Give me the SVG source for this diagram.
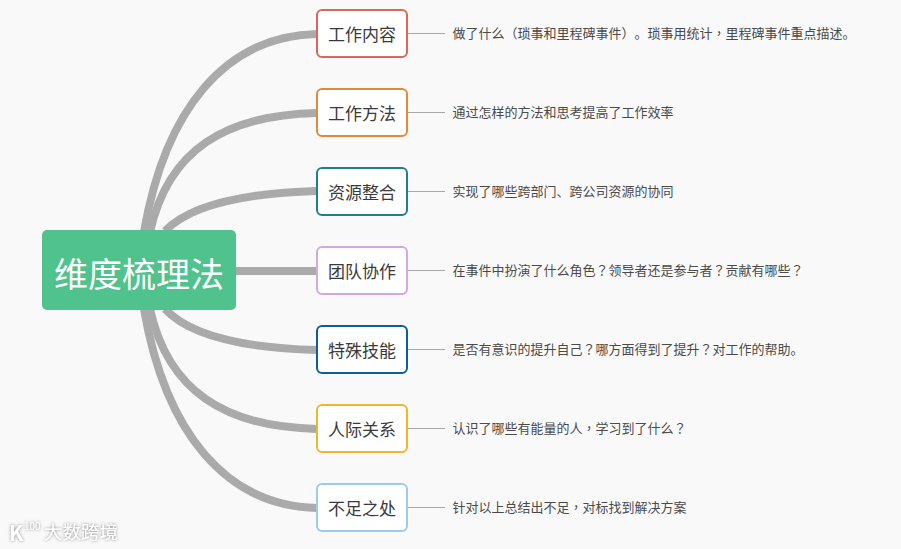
<svg xmlns="http://www.w3.org/2000/svg" width="901" height="549" viewBox="0 0 901 549">
<defs>
<filter id="wm" x="-30%" y="-40%" width="160%" height="180%"><feDropShadow dx="0" dy="0" stdDeviation="1.4" flood-color="#777" flood-opacity="0.9"/></filter>
</defs>
<style>
text{font-family:"Noto Sans CJK SC","Liberation Sans",sans-serif;text-spacing-trim:space-all}
.p{font-family:"Noto Sans CJK TC","Liberation Sans",sans-serif}
.q{font-family:"Noto Sans CJK KR","Liberation Sans",sans-serif}
.b{fill:none;stroke:#aaa;stroke-width:8}
.l{fill:none;stroke:#a8a8a8;stroke-width:1}
.n{fill:#fff;stroke-width:2}
.t{font-size:17px;fill:#3a3a3a;text-anchor:middle}
.d{font-size:13px;fill:#4a4a4a}
.w{fill:#fff;filter:url(#wm)}
</style>
<rect width="901" height="549" fill="#f9f9f9"/>
<g id="connectors">
<path class="b" d="M144 232C165 110 225 36 317 34"/>
<path class="b" d="M150 232C168 150 225 115 317 113"/>
<path class="b" d="M165 231C190 205 245 193 317 191"/>
<path class="b" d="M236 271H317"/>
<path class="b" d="M165 309C190 336 245 348 317 350"/>
<path class="b" d="M150 309C168 391 225 427 317 429"/>
<path class="b" d="M144 309C165 431 225 506 317 508"/>
<path class="l" d="M408 33.500H445M408 112.500H445M408 191.500H445M408 270.500H445M408 349.500H445M408 428.500H445M408 507.500H445"/>
</g>
<g id="root"><rect x="42" y="230" width="194" height="80" rx="5" fill="#50c28e"/><text x="139" y="287" font-size="34" fill="#fff" text-anchor="middle">维度梳理法</text></g>
<g id="n1"><rect class="n" x="317" y="10" width="90" height="47" rx="5" stroke="#d9675b"/><text class="t" x="362" y="41">工作内容</text></g>
<g id="n2"><rect class="n" x="317" y="89" width="90" height="47" rx="5" stroke="#e08a3c"/><text class="t" x="362" y="120">工作方法</text></g>
<g id="n3"><rect class="n" x="317" y="168" width="90" height="47" rx="5" stroke="#1f7f8f"/><text class="t" x="362" y="199">资源整合</text></g>
<g id="n4"><rect class="n" x="317" y="247" width="90" height="47" rx="5" stroke="#d2a8e2"/><text class="t" x="362" y="278">团队协作</text></g>
<g id="n5"><rect class="n" x="317" y="326" width="90" height="47" rx="5" stroke="#0f5f94"/><text class="t" x="362" y="357">特殊技能</text></g>
<g id="n6"><rect class="n" x="317" y="405" width="90" height="47" rx="5" stroke="#f1b52e"/><text class="t" x="362" y="436">人际关系</text></g>
<g id="n7"><rect class="n" x="317" y="484" width="90" height="47" rx="5" stroke="#9ccbf2"/><text class="t" x="362" y="515">不足之处</text></g>
<g id="d1"><text class="d" x="452.500" y="38">做了什么<tspan class="q">（</tspan>琐事和里程碑事件<tspan class="q">）</tspan>。琐事用统计<tspan class="p">，</tspan>里程碑事件重点描述。</text></g>
<g id="d2"><text class="d" x="452.500" y="117">通过怎样的方法和思考提高了工作效率</text></g>
<g id="d3"><text class="d" x="452.500" y="196">实现了哪些跨部门、跨公司资源的协同</text></g>
<g id="d4"><text class="d" x="452.500" y="275">在事件中扮演了什么角色<tspan class="p">？</tspan>领导者还是参与者<tspan class="p">？</tspan>贡献有哪些<tspan class="p">？</tspan></text></g>
<g id="d5"><text class="d" x="452.500" y="354">是否有意识的提升自己<tspan class="p">？</tspan>哪方面得到了提升<tspan class="p">？</tspan>对工作的帮助。</text></g>
<g id="d6"><text class="d" x="452.500" y="433">认识了哪些有能量的人<tspan class="p">，</tspan>学习到了什么<tspan class="p">？</tspan></text></g>
<g id="d7"><text class="d" x="452.500" y="512">针对以上总结出不足<tspan class="p">，</tspan>对标找到解决方案</text></g>
<g id="watermark"><text class="w" x="9" y="541" font-size="21" font-weight="700">K</text><text class="w" x="24" y="530" font-size="10">100</text><text class="w" x="44" y="539" font-size="18.500">大数跨境</text></g>
</svg>
